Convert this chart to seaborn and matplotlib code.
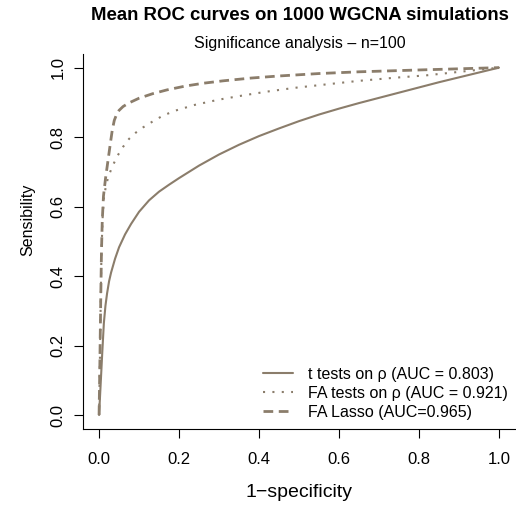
import pandas as pd
import matplotlib
matplotlib.use("Agg")
import matplotlib.pyplot as plt
import seaborn as sns

# mean ROC curves
t_fpr = [0, 0.004, 0.008, 0.012, 0.016, 0.02, 0.025, 0.03, 0.04, 0.05, 0.065,
         0.08, 0.10, 0.125, 0.15, 0.175, 0.20, 0.25, 0.30, 0.35, 0.40, 0.45,
         0.50, 0.55, 0.60, 0.65, 0.70, 0.75, 0.80, 0.85, 0.90, 0.95, 1.0]
t_tpr = [0, 0.09, 0.18, 0.265, 0.315, 0.35, 0.385, 0.41, 0.45, 0.483, 0.52,
         0.55, 0.585, 0.618, 0.643, 0.663, 0.682, 0.718, 0.75, 0.778, 0.803,
         0.825, 0.846, 0.865, 0.882, 0.898, 0.913, 0.928, 0.943, 0.958, 0.972,
         0.986, 1.0]

fa_fpr = [0, 0.002, 0.004, 0.006, 0.009, 0.012, 0.018, 0.025, 0.035, 0.047,
          0.06, 0.075, 0.092, 0.11, 0.134, 0.16, 0.19, 0.24, 0.30, 0.36, 0.42,
          0.49, 0.57, 0.65, 0.74, 0.82, 0.91, 1.0]
fa_tpr = [0, 0.15, 0.32, 0.47, 0.57, 0.625, 0.665, 0.692, 0.72, 0.748,
          0.772, 0.795, 0.813, 0.828, 0.845, 0.862, 0.876, 0.893, 0.908, 0.92,
          0.931, 0.942, 0.952, 0.962, 0.971, 0.978, 0.989, 1.0]

lasso_fpr = [0, 0.002, 0.004, 0.006, 0.008, 0.011, 0.016, 0.022, 0.028, 0.033,
             0.038, 0.044, 0.05, 0.06, 0.074, 0.10, 0.134, 0.17, 0.216, 0.26,
             0.31, 0.38, 0.45, 0.55, 0.65, 0.82, 1.0]
lasso_tpr = [0, 0.15, 0.32, 0.47, 0.56, 0.63, 0.68, 0.73, 0.78, 0.82,
             0.848, 0.866, 0.877, 0.888, 0.898, 0.912, 0.925, 0.936, 0.947, 0.955,
             0.962, 0.97, 0.976, 0.983, 0.988, 0.994, 1.0]

labels = ["t tests on \u03c1 (AUC = 0.803)",
          "FA tests on \u03c1 (AUC = 0.921)",
          "FA Lasso (AUC=0.965)"]
ticks = [0.0, 0.2, 0.4, 0.6, 0.8, 1.0]

sns.set_style("ticks")
plt.rcParams['font.family'] = ['Liberation Sans', 'DejaVu Sans']
plt.rcParams['text.color'] = 'black'
plt.rcParams['axes.labelcolor'] = 'black'
plt.rcParams['xtick.color'] = 'black'
plt.rcParams['ytick.color'] = 'black'

col = "#8B7D6B"

fig = plt.figure(figsize=(5.16, 5.07), dpi=100)
ax = fig.add_axes([0.161, 0.154, 0.837, 0.740])

df_t = pd.DataFrame({'fpr': t_fpr, 'tpr': t_tpr})
df_fa = pd.DataFrame({'fpr': fa_fpr, 'tpr': fa_tpr})
df_la = pd.DataFrame({'fpr': lasso_fpr, 'tpr': lasso_tpr})

sns.lineplot(data=df_t, x='fpr', y='tpr', ax=ax, sort=False, color=col,
             lw=1.5, label=labels[0])
sns.lineplot(data=df_fa, x='fpr', y='tpr', ax=ax, sort=False, color=col,
             lw=1.5, label=labels[1])
ax.lines[-1].set_dashes([1, 3.5])
sns.lineplot(data=df_la, x='fpr', y='tpr', ax=ax, sort=False, color=col,
             lw=2, label=labels[2])
ax.lines[-1].set_dashes([3.5, 2])

ax.set_xlim(-0.04, 1.04)
ax.set_ylim(-0.04, 1.04)
ax.set_xticks(ticks)
ax.set_yticks(ticks)
ax.set_xticklabels([f"{v:.1f}" for v in ticks])
ax.set_yticklabels([f"{v:.1f}" for v in ticks])
ax.tick_params(labelsize=12, length=6.5, width=0.8, color='black')
ax.tick_params(axis='x', pad=10)
ax.tick_params(axis='y', pad=6, labelrotation=90)
for lab in ax.get_yticklabels():
    lab.set_va('center')
for s in ['top', 'right']:
    ax.spines[s].set_visible(False)
for s in ['left', 'bottom']:
    ax.spines[s].set_linewidth(0.8)
    ax.spines[s].set_color('black')

ax.set_xlabel("1\u2212specificity", fontsize=14)
ax.set_ylabel("Sensibility", fontsize=11.5)
ax.xaxis.set_label_coords(0.5, -0.148)
ax.yaxis.set_label_coords(-0.111, 0.557)

fig.text(0.581, 0.970, "Mean ROC curves on 1000 WGCNA simulations",
         ha='center', va='center', fontsize=13.4, fontweight='bold')
fig.text(0.581, 0.915, "Significance analysis \u2013 n=100",
         ha='center', va='center', fontsize=11.5)

leg = ax.legend(loc='lower right', frameon=False, fontsize=11.5,
                handlelength=1.87, handletextpad=0.94, borderpad=0,
                borderaxespad=0, labelspacing=0.25,
                bbox_to_anchor=(0.984, 0.024))

fig.savefig("out.png", dpi=100)
